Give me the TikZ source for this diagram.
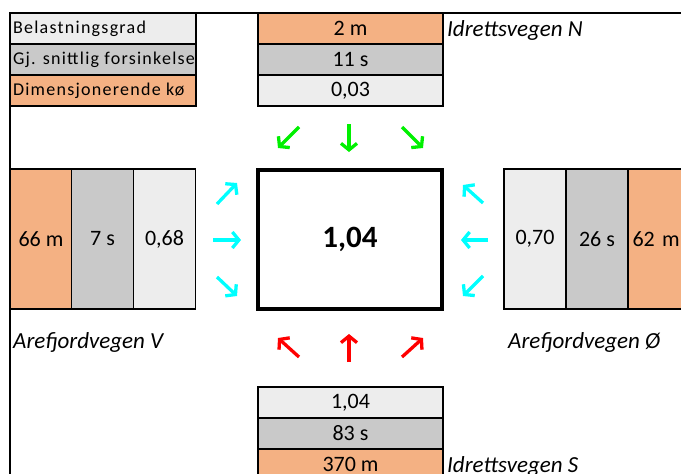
\documentclass[tikz,border=0pt]{standalone}
\usepackage{fontspec}
\setmainfont{Carlito}
\newfontfamily\legendfont[LetterSpace=7]{Carlito}
\usetikzlibrary{arrows.meta}

\definecolor{koOrange}{RGB}{244,177,131}
\definecolor{tidGra}{RGB}{201,201,201}
\definecolor{gradLys}{RGB}{237,237,237}
\definecolor{pilGronn}{RGB}{0,240,0}
\definecolor{pilCyan}{RGB}{0,255,255}
\definecolor{pilRod}{RGB}{255,0,0}

\begin{document}
\begin{tikzpicture}[x=1pt,y=-1pt]
		\tikzstyle{cell}=[draw,line width=1.6pt,inner sep=0pt,minimum width=185pt,minimum height=31pt,font=\fontsize{22}{26}\selectfont]
		\tikzstyle{legend}=[draw,line width=1.6pt,inner xsep=3pt,inner ysep=0pt,minimum width=186pt,minimum height=31pt,font=\legendfont\fontsize{18}{22}\selectfont]
		\tikzstyle{col}=[draw,line width=1.6pt,inner sep=0pt,minimum width=62pt,minimum height=140pt,font=\fontsize{22}{26}\selectfont]
		\tikzstyle{road}=[anchor=base west,inner sep=0pt,font=\fontsize{23}{27}\selectfont\itshape]
		\tikzstyle{pil}=[line width=3.3pt,-{Straight Barb[length=6.5pt,width=16pt]}]

		\useasboundingbox (0,0) rectangle (681,474);
		\clip (0,0) rectangle (681,474);

		% forklaring
		\node[legend,fill=gradLys](lgBel) at (103,28.5){\makebox[180pt][l]{Belastningsgrad}};
		\node[legend,fill=tidGra](lgTid) at (103,59.5){\makebox[180pt][l]{Gj. snittlig forsinkelse}};
		\node[legend,fill=koOrange](lgKo) at (103,90.5){\makebox[180pt][l]{Dimensjonerende kø}};

		% Idrettsvegen N
		\node[cell,fill=koOrange](nKo) at (350.5,28.5){2 m};
		\node[cell,fill=tidGra](nTid) at (350.5,59.5){11 s};
		\node[cell,fill=gradLys](nBel) at (350.5,90.5){0,03};
		\node[road](nNavn) at (447,36){Idrettsvegen N};

		% Arefjordvegen V
		\node[col,fill=koOrange](vKo) at (41,239){66 m};
		\node[col,fill=tidGra](vTid) at (102.5,239){7 s};
		\node[col,fill=gradLys](vBel) at (164.5,239){0,68};
		\node[road](vNavn) at (13,348){Arefjordvegen V};

		% Arefjordvegen Ø
		\node[col,fill=gradLys](oBel) at (535,239){0,70};
		\node[col,fill=tidGra](oTid) at (597,239){26 s};
		\node[col,fill=koOrange,text width=53pt,align=left](oKo) at (659,239){62 m};
		\node[road](oNavn) at (508,348){Arefjordvegen Ø};

		% Idrettsvegen S
		\node[cell,fill=gradLys](sBel) at (350.5,402.5){1,04};
		\node[cell,fill=tidGra](sTid) at (350.5,433.5){83 s};
		\node[cell,fill=koOrange](sKo) at (350.5,464.5){370 m};
		\node[road](sNavn) at (447,472){Idrettsvegen S};

		% kryss
		\node[draw,line width=3.2pt,minimum width=184pt,minimum height=139pt,font=\fontsize{31}{35}\selectfont\bfseries](kryss) at (350,239.5){1,04};

		\draw[line width=2.4pt] (681,13) -- (10,13) -- (10,474);

		\draw[pil,pilGronn] (299,127) -- (278,148);
		\draw[pil,pilGronn] (349,124) -- (349,152);
		\draw[pil,pilGronn] (402,127) -- (423,148);

		\draw[pil,pilCyan] (217,204) -- (237,183);
		\draw[pil,pilCyan] (213,240) -- (241,240);
		\draw[pil,pilCyan] (217,277) -- (237,296);

		\draw[pil,pilCyan] (483,203) -- (463,185);
		\draw[pil,pilCyan] (488,240) -- (461,240);
		\draw[pil,pilCyan] (483,276) -- (463,296);

		\draw[pil,pilRod] (299,357) -- (278,338);
		\draw[pil,pilRod] (349,362) -- (349,334);
		\draw[pil,pilRod] (402,357) -- (423,338);
	\end{tikzpicture}
\end{document}
